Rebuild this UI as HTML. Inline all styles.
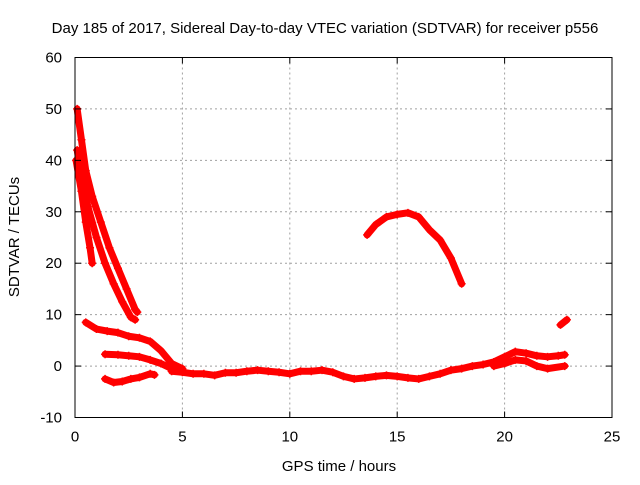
<!DOCTYPE html>
<html><head><meta charset="utf-8"><style>
body{margin:0;background:#fff}
svg text{font-family:"Liberation Sans",sans-serif;font-size:15px;fill:#000}
</style></head><body>
<svg id="chart" width="640" height="480" viewBox="0 0 640 480" xmlns="http://www.w3.org/2000/svg">
<rect width="640" height="480" fill="#fff"/>
<text x="325" y="33" text-anchor="middle">Day 185 of 2017, Sidereal Day-to-day VTEC variation (SDTVAR) for receiver p556</text>
<text x="339" y="471" text-anchor="middle">GPS time / hours</text>
<text transform="translate(19,237) rotate(-90)" text-anchor="middle">SDTVAR / TECUs</text>
<g id="grid"></g>
<g id="series"></g>
<rect x="75" y="57.5" width="537" height="360" fill="none" stroke="#000" stroke-width="1"/>
<g id="ticks"></g>
</svg>
<script>
const xTicks=[0,5,10,15,20,25];
const yTicks=[-10,0,10,20,30,40,50,60];
const sA=[[0.1,50],[0.3,44],[0.5,38],[0.8,33],[1.2,28],[1.6,23],[2,19],[2.4,15],[2.8,11],[2.9,10.5]];
const sB=[[0.1,42],[0.3,37],[0.6,31],[1,25],[1.4,20],[1.8,16],[2.2,12.5],[2.6,9.5],[2.8,9]];
const sC=[[0.05,40],[0.3,34],[0.5,28],[0.7,23],[0.8,20]];
const sD=[[0.5,8.5],[1,7.2],[1.5,6.8],[2,6.5],[2.5,5.8],[3,5.5],[3.5,4.8],[4,3],[4.5,0.5],[5,-0.5]];
const sE=[[1.4,2.3],[2,2.2],[2.5,2.0],[3,1.8],[3.5,1.2],[4,0.5],[4.5,-0.5],[5,-1]];
const sF=[[1.4,-2.5],[1.8,-3.2],[2.2,-3],[2.6,-2.5],[3,-2.2],[3.5,-1.5],[3.7,-1.7]];
const sG=[[4.5,-1],[5,-1.2],[5.5,-1.5],[6,-1.5],[6.5,-1.8],[7,-1.3],[7.5,-1.3],[8,-1],[8.5,-0.8],[9,-1],[9.5,-1.2],[10,-1.5],[10.5,-1],[11,-1],[11.5,-0.8],[12,-1.2],[12.5,-2],[13,-2.5],[13.5,-2.3],[14,-2],[14.5,-1.8],[15,-2],[15.5,-2.3],[16,-2.5],[16.5,-2],[17,-1.5],[17.5,-0.8],[18,-0.5],[18.5,0],[19,0.3],[19.5,0.8],[20,1.8],[20.5,2.8],[21,2.5],[21.5,2],[22,1.8],[22.5,2],[22.8,2.2]];
const sH=[[19.5,0],[20,0.5],[20.5,1.2],[21,1],[21.5,0],[22,-0.5],[22.8,0]];
const sI=[[13.6,25.5],[14,27.5],[14.5,29],[15,29.5],[15.5,29.8],[16,29],[16.5,26.5],[17,24.5],[17.5,21],[18,16]];
const sJ=[[22.6,8],[22.9,9]];
const allSeries=[sA,sB,sC,sD,sE,sF,sG,sH,sI,sJ];
const X0=75,X1=612,Y0=417.5,Y1=57.5;
const xs=v=>X0+(v-0)/(25-0)*(X1-X0);
const ys=v=>Y0-(v+10)/(70)*(Y0-Y1);
const NS="http://www.w3.org/2000/svg";
const grid=document.getElementById('grid'),ticks=document.getElementById('ticks'),ser=document.getElementById('series');
function mk(tag,attrs,parent){const e=document.createElementNS(NS,tag);for(const k in attrs)e.setAttribute(k,attrs[k]);parent.appendChild(e);return e;}
xTicks.forEach(t=>{const x=xs(t);
 if(t>0&&t<25){const l=mk('line',{x1:x,x2:x,y1:Y1,y2:Y0,stroke:'#a0a0a0','stroke-dasharray':'2,3'},grid);}
 const a=mk('line',{x1:x,x2:x,y1:Y0,y2:Y0-6,stroke:'#000'},ticks);
 const b=mk('line',{x1:x,x2:x,y1:Y1,y2:Y1+6,stroke:'#000'},ticks);
 const tx=mk('text',{x:x,y:Y0+24,'text-anchor':'middle'},ticks);tx.textContent=t;});
yTicks.forEach(t=>{const y=ys(t);
 if(t>-10&&t<60){const l=mk('line',{x1:X0,x2:X1,y1:y,y2:y,stroke:'#a0a0a0','stroke-dasharray':'2,3'},grid);}
 const a=mk('line',{x1:X0,x2:X0+6,y1:y,y2:y,stroke:'#000'},ticks);
 const b=mk('line',{x1:X1,x2:X1-6,y1:y,y2:y,stroke:'#000'},ticks);
 const tx=mk('text',{x:X0-13,y:y+5,'text-anchor':'end'},ticks);tx.textContent=t;});
allSeries.forEach(s=>{
 const p=mk('polyline',{points:s.map(d=>xs(d[0])+','+ys(d[1])).join(' '),fill:'none',stroke:'#f00','stroke-width':7,'stroke-linejoin':'round','stroke-linecap':'round'},ser);
 
 
 s.forEach(d=>{const x=xs(d[0]),y=ys(d[1]);
  const m=mk('path',{d:`M${x-4},${y}h8M${x},${y-4}v8`,stroke:'#f00','stroke-width':1.5},ser);
  
  });
});
</script>
</body></html>
